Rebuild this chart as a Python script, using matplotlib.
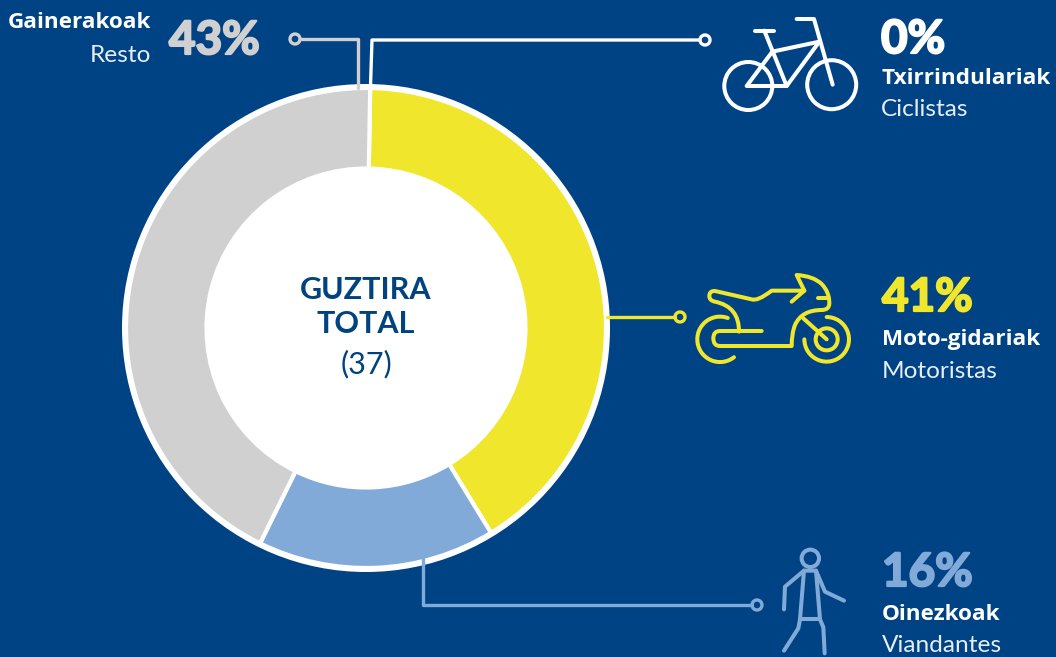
import matplotlib
matplotlib.use("Agg")
import matplotlib.pyplot as plt
import matplotlib.patheffects as pe
from matplotlib.path import Path
from matplotlib.patches import PathPatch, Circle, Arc

W, H = 1056, 657
BG = "#004385"
YEL = "#f0e62b"
GRY = "#d0d0d0"
BLU = "#82aad8"

categories = ["Txirrindulariak", "Moto-gidariak", "Oinezkoak", "Gainerakoak"]
subtitles = ["Ciclistas", "Motoristas", "Viandantes", "Resto"]
shares = [0, 41, 16, 43]
colors = ["#ffffff", YEL, BLU, GRY]
total = 37

plt.rcParams["font.family"] = ["Lato", "DejaVu Sans"]
fig = plt.figure(figsize=(W / 100, H / 100), dpi=100, facecolor=BG)

# donut
cx, cy, R = 366, 328, 244
axp = fig.add_axes([(cx - R) / W, 1 - (cy + R) / H, 2 * R / W, 2 * R / H])
axp.add_patch(Circle((0, 0), R, fc="white", ec="none"))
axp.pie(shares, colors=colors, startangle=89, counterclock=False, radius=240,
        center=(0, 0), wedgeprops=dict(width=80.5, edgecolor="white", linewidth=3.0),
        frame=False)
axp.set_xlim(-R, R); axp.set_ylim(-R, R); axp.axis("off")

# overlay in pixel coordinates
ax = fig.add_axes([0, 0, 1, 1], facecolor="none")
ax.set_xlim(0, W); ax.set_ylim(H, 0); ax.axis("off")


def line(pts, color, lw=2.4):
    xs, ys = zip(*pts)
    ax.plot(xs, ys, color=color, lw=lw, solid_capstyle="round", solid_joinstyle="round")


def dot(x, y, color):
    ax.add_patch(Circle((x, y), 5, fc="none", ec=color, lw=2.4, zorder=5))


# leaders
line([(700, 40), (372, 40), (370.5, 86)], "white")
dot(705, 40, "white")
line([(300, 39), (358, 39), (358, 88)], GRY)
dot(295, 39, GRY)
line([(607, 317), (675, 317)], YEL)
dot(680, 317, YEL)
line([(423, 558), (423, 605), (752, 605)], BLU)
dot(757, 605, BLU)


def z(pts, ox, oy):
    return [(ox + x / 3, oy + y / 3) for x, y in pts]


# bicycle
IC = 2.9
c = "white"
for x, y, r in [(748.3, 86, 24), (831.7, 84.7, 24.5)]:
    ax.add_patch(Circle((x, y), r, fc="none", ec=c, lw=IC))
for seg in [
    [(165, 92), (222, 92)],
    [(193, 92), (260, 258)],
    [(217, 155), (358, 125)],
    [(358, 125), (260, 258), (140, 258), (217, 155)],
    [(290, 57), (342, 57), (398, 254)],
]:
    line(z(seg, 700, 0), c, IC)

# motorbike
c = YEL
M, L, Q = Path.MOVETO, Path.LINETO, Path.CURVE3


def curve(verts, codes):
    v = z(verts, 670, 260)
    ax.add_patch(PathPatch(Path(v, codes), fc="none", ec=c, lw=IC, capstyle="round", joinstyle="round"))


curve([(365, 125), (403, 92), (305, 92), (262, 125), (245, 118), (135, 93),
       (118, 92), (118, 108), (118, 122), (135, 125), (208, 140), (207, 215)],
      [M, L, L, Q, Q, L, Q, Q, Q, Q, Q, Q])
curve([(403, 92), (380, 45), (430, 48), (455, 72), (478, 95), (478, 130), (478, 150),
       (455, 150), (395, 150), (375, 195), (365, 220), (365, 258), (150, 258), (130, 258),
       (130, 235), (130, 213), (150, 213), (275, 213)],
      [M, L, Q, Q, Q, Q, Q, Q, Q, Q, Q, Q, L, Q, Q, Q, Q, L])
line(z([(445, 115), (478, 115)], 670, 260), c, IC)
line(z([(400, 175), (470, 238)], 670, 260), c, IC)
fx, fy = z([(470, 238)], 670, 260)[0]
ax.add_patch(Circle((fx, fy), 11, fc="none", ec=c, lw=IC))
ax.add_patch(Arc((fx, fy), 44.6, 44.6, theta1=-90, theta2=180, ec=c, lw=IC, capstyle="round"))
rx, ry = z([(150, 238)], 670, 260)[0]
ax.add_patch(Arc((rx, ry), 45.4, 45.4, theta1=52, theta2=290, ec=c, lw=IC, capstyle="round"))

# pedestrian
c = BLU
hx, hy = z([(211, 55)], 740, 540)[0]
ax.add_patch(Circle((hx, hy), 8.7, fc="none", ec=c, lw=IC))
for seg in [
    [(132, 208), (135, 140), (192, 92), (228, 92), (255, 155), (312, 182)],
    [(192, 92), (180, 238), (175, 265), (132, 332)],
    [(228, 92), (240, 238), (250, 262), (254, 340)],
    [(180, 238), (240, 238)],
]:
    line(z(seg, 740, 540), c, IC)

# centre text
navy = "#00437f"
ax.text(366, 290, "GUZTIRA", ha="center", va="center", fontsize=22, fontweight="bold", color=navy)
ax.text(366, 324, "TOTAL", ha="center", va="center", fontsize=22, fontweight="bold", color=navy)
ax.text(366, 364, f"({total})", ha="center", va="center", fontsize=22, color=navy)


# labels
def label(x, yname, ysub, i, ha="left"):
    ax.text(x, yname, categories[i], ha=ha, va="center", fontsize=16.2, fontweight="bold",
            color="white", family="Open Sans")
    ax.text(x, ysub, subtitles[i], ha=ha, va="center", fontsize=17.6, color="#e6edf5", family="Lato")


def pct(x, y, i, col):
    ax.text(x, y, f"{shares[i]}%", ha="left", va="center", fontsize=33, fontweight="bold", color=col,
            path_effects=[pe.withStroke(linewidth=1.6, foreground=col)])


label(881, 78, 110, 0); pct(881, 40, 0, "white")
label(882, 339, 371, 1); pct(882, 298, 1, YEL)
label(882, 614, 646, 2); pct(882, 573, 2, BLU)
label(151, 22, 55, 3, ha="right"); pct(169, 41, 3, GRY)

fig.savefig("out.png", dpi=100, facecolor=BG)
